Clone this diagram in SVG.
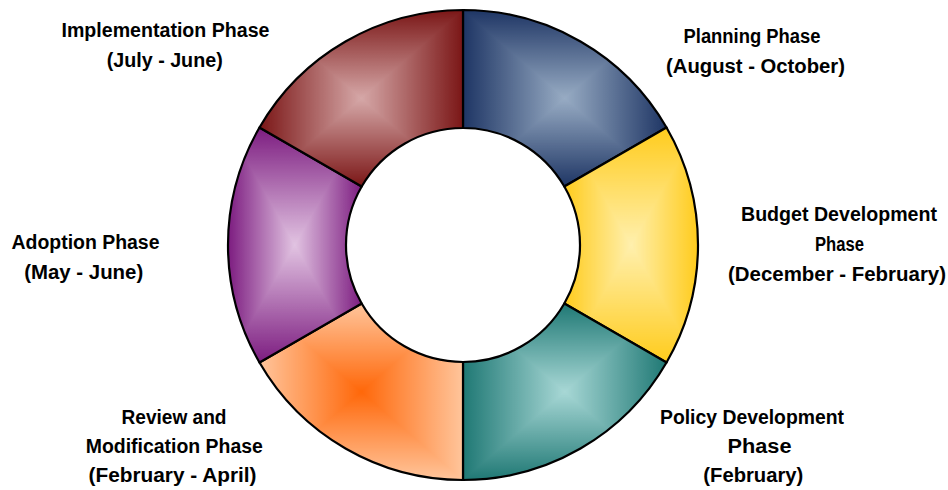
<svg xmlns="http://www.w3.org/2000/svg" xmlns:xlink="http://www.w3.org/1999/xlink" width="948" height="490" viewBox="0 0 948 490">
<style>
.outline{fill:none;stroke:#000;stroke-width:2.2;stroke-linejoin:round}
.lbl{font-family:"Liberation Sans",Arial,sans-serif;font-weight:bold;font-size:20px;fill:#000;text-anchor:middle}
</style>
<defs>
<linearGradient id="gV" x1="0" y1="0" x2="0" y2="1"><stop offset="0" stop-color="#fff"/><stop offset="0.5" stop-color="#000"/><stop offset="1" stop-color="#fff"/></linearGradient>
<linearGradient id="gH" x1="0" y1="0" x2="1" y2="0"><stop offset="0" stop-color="#fff"/><stop offset="0.5" stop-color="#000"/><stop offset="1" stop-color="#fff"/></linearGradient>
<mask id="rg" maskContentUnits="objectBoundingBox">
<rect x="0" y="0" width="1" height="1" fill="url(#gV)"/>
<path d="M0,0 L0.5,0.5 L0,1 Z M1,0 L0.5,0.5 L1,1 Z" fill="url(#gH)"/>
</mask>
<path id="s1" d="M463,10 A235,235 0 0 1 666.52,127.5 L564.33,186.5 A117,117 0 0 0 463,128 Z"/>
<path id="s2" d="M666.52,127.5 A235,235 0 0 1 666.52,362.5 L564.33,303.5 A117,117 0 0 0 564.33,186.5 Z"/>
<path id="s3" d="M666.52,362.5 A235,235 0 0 1 463,480 L463,362 A117,117 0 0 0 564.33,303.5 Z"/>
<path id="s4" d="M463,480 A235,235 0 0 1 259.48,362.5 L361.67,303.5 A117,117 0 0 0 463,362 Z"/>
<path id="s5" d="M259.48,362.5 A235,235 0 0 1 259.48,127.5 L361.67,186.5 A117,117 0 0 0 361.67,303.5 Z"/>
<path id="s6" d="M259.48,127.5 A235,235 0 0 1 463,10 L463,128 A117,117 0 0 0 361.67,186.5 Z"/>
</defs>
<rect width="948" height="490" fill="#fff"/>

<g id="planning">
<use xlink:href="#s1" fill="#98ACC4"/>
<use xlink:href="#s1" fill="#1E3564" mask="url(#rg)"/>
<use xlink:href="#s1" class="outline"/>
<text class="lbl" x="752" y="43" textLength="137" lengthAdjust="spacingAndGlyphs">Planning Phase</text>
<text class="lbl" x="755.5" y="73" textLength="179" lengthAdjust="spacingAndGlyphs">(August - October)</text>
</g>

<g id="budget">
<use xlink:href="#s2" fill="#FFF0AE"/>
<use xlink:href="#s2" fill="#FFCB1C" mask="url(#rg)"/>
<use xlink:href="#s2" class="outline"/>
<text class="lbl" x="839" y="221" textLength="196" lengthAdjust="spacingAndGlyphs">Budget Development</text>
<text class="lbl" x="839.5" y="251" textLength="49" lengthAdjust="spacingAndGlyphs">Phase</text>
<text class="lbl" x="837" y="281" textLength="218" lengthAdjust="spacingAndGlyphs">(December - February)</text>
</g>

<g id="policy">
<use xlink:href="#s3" fill="#A8D8D6"/>
<use xlink:href="#s3" fill="#1F7874" mask="url(#rg)"/>
<use xlink:href="#s3" class="outline"/>
<text class="lbl" x="752" y="424" textLength="184" lengthAdjust="spacingAndGlyphs">Policy Development</text>
<text class="lbl" x="759.5" y="453" textLength="64" lengthAdjust="spacingAndGlyphs">Phase</text>
<text class="lbl" x="753.3" y="482" textLength="100" lengthAdjust="spacingAndGlyphs">(February)</text>
</g>

<g id="review">
<use xlink:href="#s4" fill="#FF680A"/>
<use xlink:href="#s4" fill="#FFC59C" mask="url(#rg)"/>
<use xlink:href="#s4" class="outline"/>
<text class="lbl" x="174" y="424" textLength="105" lengthAdjust="spacingAndGlyphs">Review and</text>
<text class="lbl" x="174.3" y="453" textLength="177" lengthAdjust="spacingAndGlyphs">Modification Phase</text>
<text class="lbl" x="172.5" y="482" textLength="168" lengthAdjust="spacingAndGlyphs">(February - April)</text>
</g>

<g id="adoption">
<use xlink:href="#s5" fill="#E2C4E2"/>
<use xlink:href="#s5" fill="#7C1C80" mask="url(#rg)"/>
<use xlink:href="#s5" class="outline"/>
<text class="lbl" x="85.5" y="249" textLength="148" lengthAdjust="spacingAndGlyphs">Adoption Phase</text>
<text class="lbl" x="83.7" y="279" textLength="119" lengthAdjust="spacingAndGlyphs">(May - June)</text>
</g>

<g id="implementation">
<use xlink:href="#s6" fill="#D6A8A8"/>
<use xlink:href="#s6" fill="#7A1616" mask="url(#rg)"/>
<use xlink:href="#s6" class="outline"/>
<text class="lbl" x="165.5" y="37" textLength="208" lengthAdjust="spacingAndGlyphs">Implementation Phase</text>
<text class="lbl" x="164.7" y="67" textLength="116" lengthAdjust="spacingAndGlyphs">(July - June)</text>
</g>
</svg>
